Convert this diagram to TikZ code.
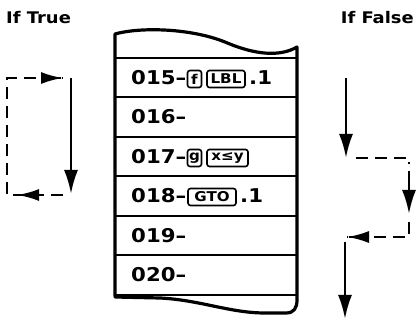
\documentclass[tikz,border=0pt]{standalone}
\usepackage{fontspec}
\usetikzlibrary{arrows.meta}
\newfontfamily\hpfont[FakeStretch=1.12]{DejaVu Sans}
\begin{document}
\begin{tikzpicture}[x=1pt,y=-1pt,
  tape/.style={line width=3.2pt,line join=round,line cap=round},
  rowline/.style={line width=2.6pt},
  rowtext/.style={anchor=west,inner sep=0pt,font=\hpfont\bfseries\fontsize{19}{19}\selectfont},
  keybox/.style={draw,line width=1.6pt,rounded corners=2.5pt,inner sep=0pt,minimum height=17pt,
    font=\hpfont\bfseries\fontsize{13.5}{13.5}\selectfont},
  title/.style={inner sep=0pt,font=\hpfont\bfseries\fontsize{16}{16}\selectfont},
  flow/.style={line width=2.6pt,-{Latex[length=24pt,width=14pt]}},
  dashflow/.style={line width=2.6pt,dash pattern=on 12pt off 7pt},
  tip/.style={-{Latex[length=22pt,width=12pt]}}]
\useasboundingbox (0,0) rectangle (416,320);
% titles
\node[title,anchor=west] (ttrue) at (6,18) {If True};
\node[title,anchor=east] (tfalse) at (414,18) {If False};
% tape outline
\draw[tape] (115,296) -- (115,34) .. controls (140,27) and (190,28) .. (225,42)
  .. controls (255,55) and (280,57) .. (297,47) -- (297,300)
  .. controls (297,308) and (294,313) .. (286,313) -- (265,313)
  .. controls (230,313) and (200,300) .. (160,298) -- (115,297);
\foreach \yy in {58,97,137,176,216,255,295}
  \draw[rowline] (115,\yy) -- (297,\yy);
% rows
\node[rowtext] (r15) at (131,78) {015–};
\node[keybox,minimum width=14pt] (kf) at (194.5,79) {f};
\node[keybox,minimum width=38pt] (klbl) at (226,79) {LBL};
\node[rowtext] (d15) at (249,78) {.1};
\node[rowtext] (r16) at (131,117) {016–};
\node[rowtext] (r17) at (131,157) {017–};
\node[keybox,minimum width=14pt] (kg) at (194.5,158) {g};
\node[keybox,minimum width=41pt] (kxy) at (227.5,158) {x≤y};
\node[rowtext] (r18) at (131,196) {018–};
\node[keybox,minimum width=48pt] (kgto) at (212,197) {GTO};
\node[rowtext] (d18) at (240,196) {.1};
\node[rowtext] (r19) at (131,236) {019–};
\node[rowtext] (r20) at (131,275) {020–};
% left (true) flow
\coordinate (lt1) at (71,78);
\coordinate (lt2) at (71,194);
\coordinate (lb0) at (63,195);
\coordinate (lbc) at (7,195);
\coordinate (ltc) at (7,78);
\coordinate (lte) at (63,78);
\coordinate (lba) at (42,195);
\coordinate (lbt) at (17,195);
\draw[flow] (lt1) -- (lt2);
\draw[dashflow] (lb0) -- (lbc) -- (ltc) -- (lte);
\draw[line width=2.6pt,tip] ([xshift=-2pt]lte) -- (lte);
\draw[line width=2.6pt,tip] (lba) -- (lbt);
% right (false) flow
\coordinate (ra1) at (346,78);
\coordinate (ra2) at (346,158);
\coordinate (rd1) at (356,158);
\coordinate (rdc) at (409,158);
\coordinate (rd2) at (409,164);
\coordinate (rb1) at (409,171);
\coordinate (rb2) at (409,214);
\coordinate (re1) at (409,222);
\coordinate (rec) at (409,237);
\coordinate (ree) at (347,237);
\coordinate (rf1) at (345,242);
\coordinate (rf2) at (345,319);
\draw[flow] (ra1) -- (ra2);
\draw[dashflow] (rd1) -- (rdc) -- (rd2);
\draw[flow] (rb1) -- (rb2);
\draw[dashflow] (re1) -- (rec) -- (ree);
\draw[line width=2.6pt,tip] ([xshift=2pt]ree) -- (ree);
\draw[flow] (rf1) -- (rf2);
\end{tikzpicture}
\end{document}
